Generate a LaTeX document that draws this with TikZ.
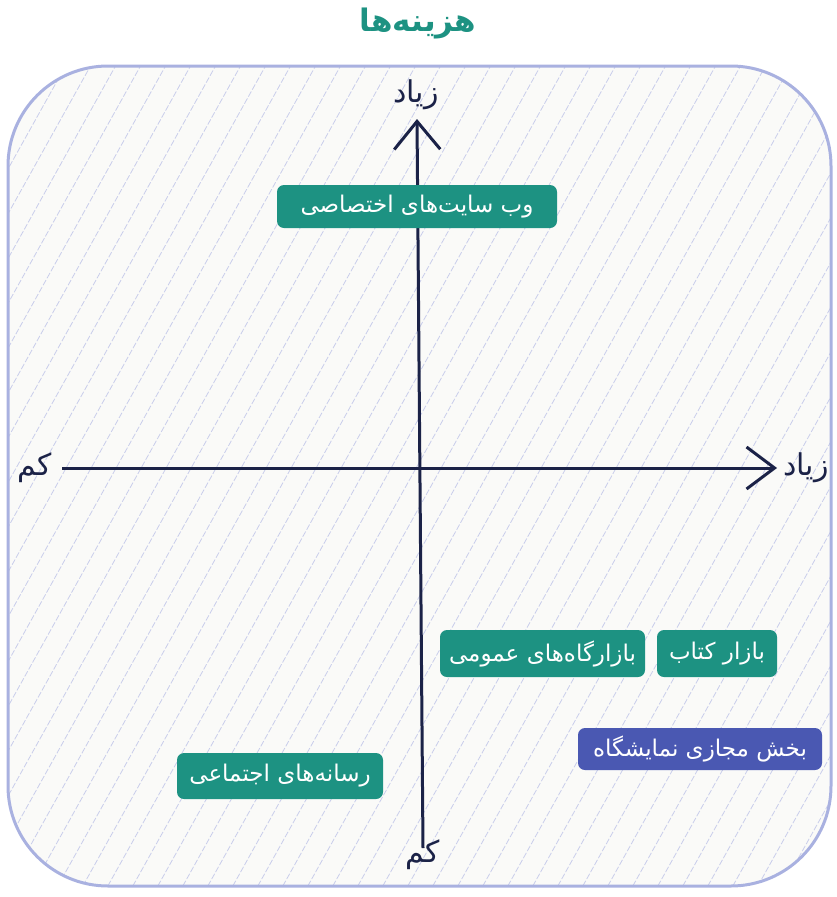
\documentclass[tikz,border=0pt]{standalone}
\usepackage{fontspec}
\TeXXeTstate=1
\newfontfamily\fa[Script=Arabic]{DejaVu Sans}
\usetikzlibrary{arrows.meta}
\definecolor{teal1}{HTML}{1D9282}
\definecolor{blue1}{HTML}{4A58B2}
\definecolor{navy}{HTML}{1B2247}
\definecolor{framec}{HTML}{A9B1E0}
\definecolor{hatchc}{HTML}{C9CDEB}
\definecolor{bgfill}{HTML}{FAFAF8}
\begin{document}
\begin{tikzpicture}[x=1pt,y=-1pt,
  box/.style={rounded corners=7pt, text=white, font=\fa\fontsize{23}{25}\selectfont, inner sep=0pt, anchor=center},
  axis/.style={draw=navy, line width=3pt},
  lbl/.style={text=navy, font=\fa\fontsize{30}{32}\selectfont, inner sep=0pt},
  hatchline/.style={draw=hatchc, line width=0.8pt, dash pattern=on 6pt off 2pt},
  framestyle/.style={draw=framec, line width=3pt, rounded corners=100pt}]
\useasboundingbox (0,0) rectangle (837,897);
\fill[bgfill, rounded corners=100pt] (8,66) rectangle (831,886);
\begin{scope}
  \clip[rounded corners=100pt] (8,66) rectangle (831,886);
  \foreach \i in {-600,-575,...,850} \draw[hatchline] (\i,900) -- ++(480,-860);
\end{scope}
\draw[framestyle] (8,66) rectangle (831,886);

\node[text=teal1, font=\fa\bfseries\fontsize{31}{33}\selectfont, inner sep=0pt] (title) at (418,24) {\beginR هزینه‌ها\endR};

\coordinate (vtop) at (417,119);
\coordinate (vbot) at (423,848);
\coordinate (hleft) at (62,468);
\coordinate (hright) at (777,468);
\draw[axis, -{Straight Barb[length=28pt,width=46pt]}] (vbot) -- (vtop);
\draw[axis, -{Straight Barb[length=28pt,width=42pt]}] (hleft) -- (hright);

\node[lbl] (ztop) at (416,95) {\beginR زیاد\endR};
\node[lbl] (zright) at (806,468) {\beginR زیاد\endR};
\node[lbl] (kleft) at (35,468) {\beginR کم\endR};
\node[lbl] (kbot) at (423,855) {\beginR کم\endR};

\node[box, fill=teal1, minimum width=280pt, minimum height=43pt] (web) at (417,206.5) {\beginR وب سایت‌های اختصاصی\endR};
\node[box, fill=teal1, minimum width=205pt, minimum height=47pt] (bazargah) at (542.5,653.5) {\beginR بازارگاه‌های عمومی\endR};
\node[box, fill=teal1, minimum width=120pt, minimum height=47pt] (ketab) at (717,653.5) {\beginR بازار کتاب\endR};
\node[box, fill=blue1, minimum width=244pt, minimum height=42pt] (bakhsh) at (700,749) {\beginR بخش مجازی نمایشگاه\endR};
\node[box, fill=teal1, minimum width=206pt, minimum height=46pt] (resaneh) at (280,776) {\beginR رسانه‌های اجتماعی\endR};
\end{tikzpicture}
\end{document}
